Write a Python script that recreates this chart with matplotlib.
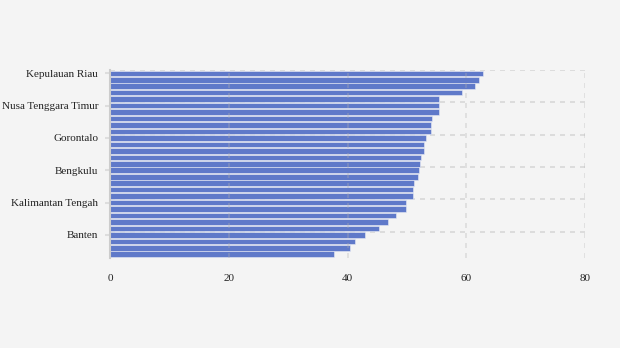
import matplotlib.pyplot as plt
import numpy as np

provinces = [
    "Kepulauan Riau", "DKI Jakarta", "Kalimantan Timur", "Bali", "Jawa Barat",
    "Nusa Tenggara Timur", "Jawa Timur", "DI Yogyakarta", "Sulawesi Utara", "Jawa Tengah",
    "Gorontalo", "Sumatera Utara", "Riau", "Sulawesi Selatan", "Kalimantan Selatan",
    "Bengkulu", "Sumatera Barat", "Jambi", "Lampung", "Sulawesi Tengah",
    "Kalimantan Tengah", "Sumatera Selatan", "Aceh", "Kalimantan Barat", "Maluku",
    "Banten", "Sulawesi Tenggara", "Nusa Tenggara Barat", "Kepulauan Bangka Belitung",
]
values = [
    62.8, 62.1, 61.5, 59.3, 55.4,
    55.4, 55.4, 54.2, 54.1, 54.1,
    53.2, 52.9, 52.9, 52.4, 52.2,
    52.0, 51.9, 51.2, 51.0, 51.0,
    49.9, 49.9, 48.2, 46.8, 45.3,
    42.9, 41.3, 40.4, 37.7,
]
xticks = [0, 20, 40, 60, 80]

plt.rcParams['font.family'] = ['Liberation Serif', 'DejaVu Serif']

fig = plt.figure(figsize=(6.2, 3.48), dpi=100, facecolor="#f4f4f4")
ax = fig.add_axes([110/620, 1 - 257.5/348, 475/620, 187.4/348])
ax.set_facecolor("#f4f4f4")

y = np.arange(len(values))
ax.barh(y, values, height=0.86, color="#5f79c9", edgecolor="#e8ebf5", linewidth=0.4, zorder=2)

ax.set_xlim(0, 80)
ax.set_ylim(len(values) - 0.5, -0.5)

# only every fifth province is labelled
shown = list(range(0, len(values), 5))
ax.set_yticks(shown)
ax.set_yticklabels([provinces[i] for i in shown], fontsize=8, color="#222222")
ax.set_xticks(xticks)
ax.set_xticklabels([str(t) for t in xticks], fontsize=8, color="#222222")

for i in shown:
    ax.axhline(i - 0.5, color="#d8d8d8", linestyle=(0, (3, 3)), linewidth=1.2, zorder=1)
for t in xticks[1:]:
    ax.axvline(t, color="#b0b0b0", linestyle=(0, (3, 3)), linewidth=1.2, alpha=0.35, zorder=3)

for s in ["top", "right", "bottom"]:
    ax.spines[s].set_visible(False)
ax.spines["left"].set_color("#cccccc")
ax.spines["left"].set_linewidth(1.5)

ax.tick_params(axis="y", length=3.6, color="#dddddd", width=1.5, pad=5)
ax.tick_params(axis="x", length=0, pad=12)

fig.savefig("out.png", dpi=100, facecolor=fig.get_facecolor())
